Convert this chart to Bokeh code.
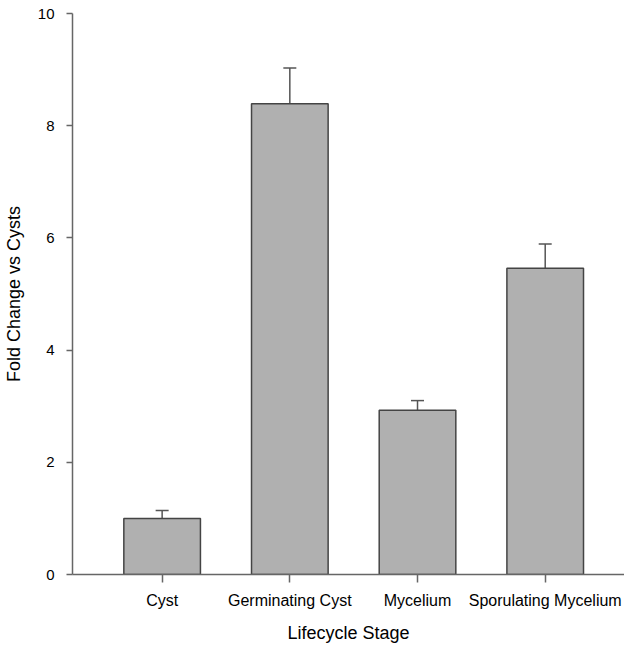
from bokeh.plotting import figure
from bokeh.models import Range1d, FixedTicker, ColumnDataSource, Whisker, TeeHead
from bokeh.embed import file_html
from bokeh.resources import INLINE

stages = ["Cyst", "Germinating Cyst", "Mycelium", "Sporulating Mycelium"]
fold_change = [1.0, 8.39, 2.93, 5.46]
error = [0.14, 0.64, 0.17, 0.43]
y_ticks = [0, 2, 4, 6, 8, 10]

xs = list(range(len(stages)))
upper = [v + e for v, e in zip(fold_change, error)]
src = ColumnDataSource(dict(x=xs, top=fold_change, upper=upper))

p = figure(width=624, height=645, output_backend="svg", toolbar_location=None,
           x_range=Range1d(-0.702, 3.621), y_range=Range1d(0, 10),
           min_border_left=66, min_border_right=0, min_border_top=13, min_border_bottom=64)
p.outline_line_color = None
p.xgrid.visible = False
p.ygrid.visible = False

p.add_layout(Whisker(source=src, base="x", lower="top", upper="upper",
                     line_color="#555555", line_width=1.5,
                     upper_head=TeeHead(size=13, line_color="#555555", line_width=1.5),
                     lower_head=None))
p.vbar(x="x", top="top", width=0.6, bottom=0, source=src,
       fill_color="#b0b0b0", line_color="#444444", line_width=1.5)

font = "Liberation Sans"
p.xaxis.ticker = FixedTicker(ticks=xs)
p.xaxis.major_label_overrides = {i: s for i, s in enumerate(stages)}
p.xaxis.minor_tick_line_color = None
p.xaxis.major_tick_out = 8
p.xaxis.major_tick_in = 0
p.xaxis.axis_label = "Lifecycle Stage"
p.xaxis.major_label_standoff = 9
p.xaxis.axis_label_standoff = 11
p.xaxis.major_label_text_font_size = "16px"

p.yaxis.ticker = FixedTicker(ticks=y_ticks)
p.yaxis.minor_tick_line_color = None
p.yaxis.major_tick_out = 6
p.yaxis.major_tick_in = 0
p.yaxis.axis_label = "Fold Change vs Cysts"
p.yaxis.major_label_standoff = 12
p.yaxis.axis_label_standoff = 11
p.yaxis.major_label_text_font_size = "15px"

for ax in (p.xaxis, p.yaxis):
    ax.axis_line_color = "#666666"
    ax.axis_line_width = 1.5
    ax.major_tick_line_color = "#666666"
    ax.major_tick_line_width = 1.5
    ax.major_label_text_font = font
    ax.major_label_text_color = "#000000"
    ax.axis_label_text_font = font
    ax.axis_label_text_font_size = "18px"
    ax.axis_label_text_font_style = "normal"
    ax.axis_label_text_color = "#000000"

open("out.html", "w").write(file_html(p, INLINE))
